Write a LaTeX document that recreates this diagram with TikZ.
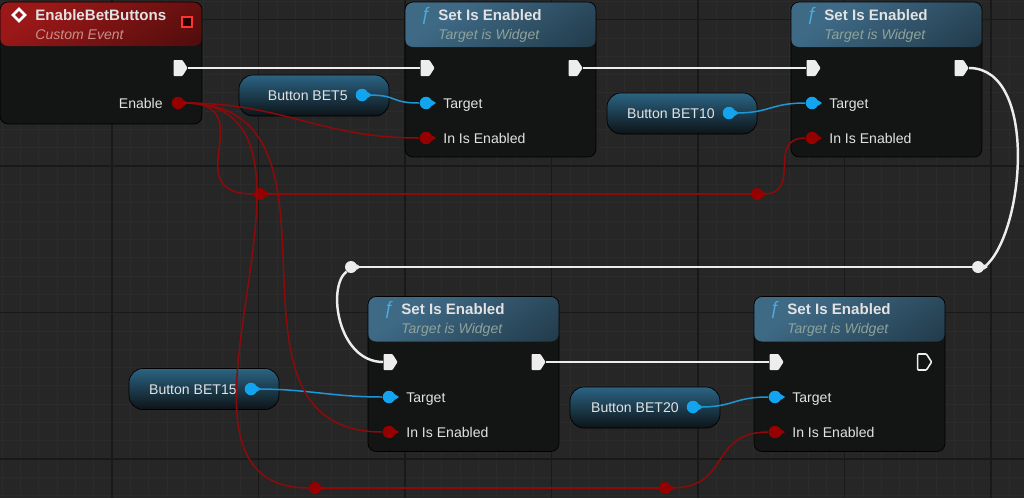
\documentclass[tikz,border=0pt]{standalone}
\usepackage{fontspec}
\setmainfont{Liberation Sans}
\usepackage{xcolor}
\usepackage{tikz}
\usetikzlibrary{shapes.geometric, shapes.symbols}

\definecolor{canvas}{HTML}{262626}
\definecolor{gridfine}{HTML}{2B2B2B}
\definecolor{gridbold}{HTML}{191919}
\definecolor{nodebody}{HTML}{131414}
\definecolor{fnheadtop}{HTML}{3F6A86}
\definecolor{fnheadbot}{HTML}{13222B}
\definecolor{evheadtop}{HTML}{9A1818}
\definecolor{evheadbot}{HTML}{3A0909}
\definecolor{pilltop}{HTML}{2B6483}
\definecolor{pillbot}{HTML}{0D1317}
\definecolor{pinblue}{HTML}{12A4EE}
\definecolor{pinred}{HTML}{950000}
\definecolor{wirered}{HTML}{8E0A0A}
\definecolor{wireblue}{HTML}{1C98D6}
\definecolor{execwhite}{HTML}{EDEDED}
\definecolor{labeltext}{HTML}{E2E2E2}
\definecolor{fnsub}{HTML}{8EA39B}
\definecolor{evsub}{HTML}{C98F88}
\definecolor{fnicon}{HTML}{4BA9DE}

\begin{document}
\begin{tikzpicture}[
    x=0.02cm, y=-0.02cm,
    every node/.style={font=\fontsize{8}{9.6}\selectfont, text=labeltext, inner sep=0pt},
    fnbody/.style={rectangle, draw=black, fill=nodebody, rounded corners=0.16cm,
        minimum width=3.82cm, minimum height=3.1cm,
        path picture={\shade[top color=fnheadtop, bottom color=fnheadbot, shading angle=35]
            (path picture bounding box.north west) rectangle ([yshift=-0.9cm]path picture bounding box.north east);}},
    evbody/.style={rectangle, draw=black, fill=nodebody, rounded corners=0.16cm,
        minimum width=4.04cm, minimum height=2.44cm,
        path picture={\shade[top color=evheadtop, bottom color=evheadbot, shading angle=35]
            (path picture bounding box.north west) rectangle ([yshift=-0.88cm]path picture bounding box.north east);}},
    pill/.style={rectangle, draw=black, rounded corners=0.28cm, top color=pilltop, bottom color=pillbot,
        minimum width=3cm, minimum height=0.82cm},
    titletext/.style={anchor=base west, font=\fontsize{8.6}{10}\selectfont\bfseries},
    subtext/.style={anchor=base west, font=\fontsize{8}{9.6}\selectfont\itshape, text=#1},
    fnicon/.style={anchor=base west, font=\fontsize{10.5}{12}\selectfont\itshape, text=fnicon},
    pinlabel/.style={anchor=base west},
    pilltext/.style={anchor=base east},
    execpin/.style={signal, signal to=east, signal pointer angle=115, fill=execwhite,
        minimum width=0.28cm, minimum height=0.32cm, rounded corners=0.5pt},
    execpinopen/.style={execpin, fill=none, draw=execwhite, line width=0.9pt},
    datapin/.style={circle, fill=#1, minimum size=0.25cm},
    knot/.style={circle, fill=#1, minimum size=0.24cm},
    execwire/.style={draw=execwhite, line width=1.4pt},
    boolwire/.style={draw=wirered, line width=0.85pt},
    objwire/.style={draw=wireblue, line width=0.85pt},
]
% Canvas and grid
\fill[canvas] (0,0) rectangle (1024,498);
\useasboundingbox (0,0) rectangle (1024,498);
\foreach \i in {-6,...,50} \draw[gridfine, line width=0.3pt] ({112+18.3125*\i},0) -- ({112+18.3125*\i},498);
\foreach \i in {-1,...,26} \draw[gridfine, line width=0.3pt] (0,{19.5+18.3125*\i}) -- (1024,{19.5+18.3125*\i});
\foreach \x in {112,258.5,...,1000} \draw[gridbold, line width=0.6pt] (\x,0) -- (\x,498);
\foreach \y in {19.5,166,...,470} \draw[gridbold, line width=0.6pt] (0,\y) -- (1024,\y);

% Custom event
\node[evbody] (event) at (101,63) {};
\node[diamond, draw=white, line width=1.5pt, minimum size=0.26cm] (evicon) at (19,15) {};
\node[titletext] (evtitle) at (35,20.5) {EnableBetButtons};
\node[subtext=evsub] (evsubtitle) at (35,39.5) {Custom Event};
\node[rectangle, draw=red!80!white, fill=black!85!red, line width=0.9pt, minimum size=0.2cm] (evdelegate) at (187,22) {};
\node[anchor=base east] (evenablelbl) at (163,108) {Enable};

% Row 1 (Set Is Enabled 1, 2)
\node[fnbody] (set1) at (500.5,79.5) {};
\node[fnicon] (set1icon) at (420,20) {ƒ};
\node[titletext] (set1title) at (438,20.5) {Set Is Enabled};
\node[subtext=fnsub] (set1sub) at (438,39.5) {Target is Widget};
\node[pinlabel] (set1tgtlbl) at (443,108) {Target};
\node[pinlabel] (set1enlbl) at (443,143) {In Is Enabled};

\node[fnbody] (set2) at (886.5,79.5) {};
\node[fnicon] (set2icon) at (806,20) {ƒ};
\node[titletext] (set2title) at (824,20.5) {Set Is Enabled};
\node[subtext=fnsub] (set2sub) at (824,39.5) {Target is Widget};
\node[pinlabel] (set2tgtlbl) at (829,108) {Target};
\node[pinlabel] (set2enlbl) at (829,143) {In Is Enabled};

% Row 2 (Set Is Enabled 3, 4)
\node[fnbody] (set3) at (463.5,374) {};
\node[fnicon] (set3icon) at (383,314) {ƒ};
\node[titletext] (set3title) at (401,314.5) {Set Is Enabled};
\node[subtext=fnsub] (set3sub) at (401,333.5) {Target is Widget};
\node[pinlabel] (set3tgtlbl) at (406,402) {Target};
\node[pinlabel] (set3enlbl) at (406,437) {In Is Enabled};

\node[fnbody] (set4) at (849.5,374) {};
\node[fnicon] (set4icon) at (769,314) {ƒ};
\node[titletext] (set4title) at (787,314.5) {Set Is Enabled};
\node[subtext=fnsub] (set4sub) at (787,333.5) {Target is Widget};
\node[pinlabel] (set4tgtlbl) at (792,402) {Target};
\node[pinlabel] (set4enlbl) at (792,437) {In Is Enabled};

% Button getters
\node[pill] (bet5) at (314,95.5) {};
\node[pilltext] (bet5lbl) at (348,100) {Button BET5};
\node[pill] (bet10) at (682,113.5) {};
\node[pilltext] (bet10lbl) at (715,118) {Button BET10};
\node[pill] (bet15) at (204,389) {};
\node[pilltext] (bet15lbl) at (237,394) {Button BET15};
\node[pill] (bet20) at (645,407.5) {};
\node[pilltext] (bet20lbl) at (679,412) {Button BET20};

% Pins
\node[execpin] (evtexec) at (178,68) {};
\node[datapin=pinred] (evtenable) at (178,103) {};
\node[execpin] (set1in) at (425,68) {};
\node[execpin] (set1out) at (573,68) {};
\node[datapin=pinblue] (set1tgt) at (426,103) {};
\node[datapin=pinred] (set1en) at (426,138) {};
\node[execpin] (set2in) at (811,68) {};
\node[execpin] (set2out) at (959,68) {};
\node[datapin=pinblue] (set2tgt) at (812,103) {};
\node[datapin=pinred] (set2en) at (812,138) {};
\node[execpin] (set3in) at (388,362) {};
\node[execpin] (set3out) at (536,362) {};
\node[datapin=pinblue] (set3tgt) at (389,397) {};
\node[datapin=pinred] (set3en) at (389,432) {};
\node[execpin] (set4in) at (774,362) {};
\node[execpinopen] (set4out) at (922,362) {};
\node[datapin=pinblue] (set4tgt) at (775,397) {};
\node[datapin=pinred] (set4en) at (775,432) {};
\node[datapin=pinblue] (bet5pin) at (362,95) {};
\node[datapin=pinblue] (bet10pin) at (729,113) {};
\node[datapin=pinblue] (bet15pin) at (251,389) {};
\node[datapin=pinblue] (bet20pin) at (693,407) {};

% Reroute knots
\node[knot=pinred] (knot1) at (260,194) {};
\node[knot=pinred] (knot2) at (757,194) {};
\node[knot=pinred] (knot3) at (315,488) {};
\node[knot=pinred] (knot4) at (665,488) {};
\node[knot=execwhite] (knotR) at (978,267) {};
\node[knot=execwhite] (knotL) at (351,267) {};

% Pin tips
\foreach \p/\c in {evtenable/pinred, set1tgt/pinblue, set1en/pinred, set2tgt/pinblue, set2en/pinred,
    set3tgt/pinblue, set3en/pinred, set4tgt/pinblue, set4en/pinred, bet5pin/pinblue, bet10pin/pinblue,
    bet15pin/pinblue, bet20pin/pinblue, knot1/pinred, knot2/pinred, knot3/pinred, knot4/pinred,
    knotR/execwhite, knotL/execwhite}
  \fill[\c] ([xshift=-0.02cm, yshift=0.06cm]\p.east) -- ([xshift=0.07cm]\p.east) -- ([xshift=-0.02cm, yshift=-0.06cm]\p.east) -- cycle;

% Exec wires
\draw[execwire] (evtexec.east) -- (set1in.west);
\draw[execwire] (set1out.east) -- (set2in.west);
\draw[execwire] (set2out.east) .. controls +(70,0) and +(40,-32) .. (knotR.east);
\draw[execwire] (knotR) -- (knotL);
\draw[execwire] (knotL.south west) .. controls +(-20,16) and +(-45,0) .. (set3in.west);
\draw[execwire] (set3out.east) -- (set4in.west);

% Target wires
\draw[objwire] (bet5pin.east) .. controls +(30,0) and +(-30,0) .. (set1tgt.west);
\draw[objwire] (bet10pin.east) .. controls +(35,0) and +(-35,0) .. (set2tgt.west);
\draw[objwire] (bet15pin.east) .. controls +(50,0) and +(-50,0) .. (set3tgt.west);
\draw[objwire] (bet20pin.east) .. controls +(35,0) and +(-35,0) .. (set4tgt.west);

% Enable wires
\draw[boolwire] (evtenable.east) .. controls +(100,0) and +(-100,0) .. (set1en.west);
\draw[boolwire] (evtenable.east) .. controls +(80,0) and +(-80,0) .. (knot1.west);
\draw[boolwire] (knot1) -- (knot2);
\draw[boolwire] (knot2.east) .. controls +(40,0) and +(-40,0) .. (set2en.west);
\draw[boolwire] (evtenable.east) .. controls +(185,0) and +(-185,0) .. (set3en.west);
\draw[boolwire] (evtenable.east) .. controls +(180,0) and +(-180,0) .. (knot3.west);
\draw[boolwire] (knot3) -- (knot4);
\draw[boolwire] (knot4.east) .. controls +(60,0) and +(-60,0) .. (set4en.west);
\end{tikzpicture}
\end{document}
